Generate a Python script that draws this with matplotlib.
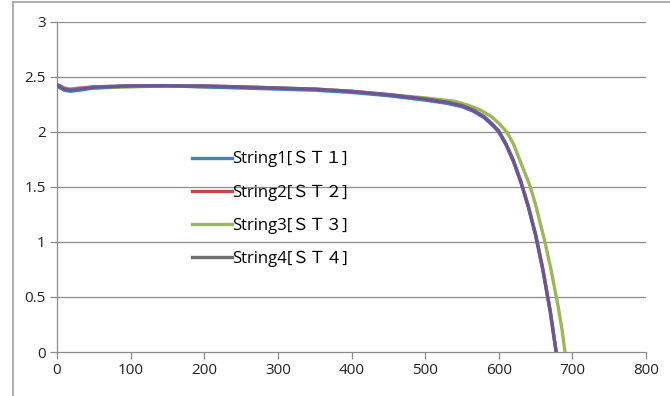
import matplotlib
matplotlib.use("Agg")
import matplotlib.pyplot as plt
from matplotlib.lines import Line2D

# String I-V curves (voltage in V, current in A)
v_main = [0, 5, 10, 18, 30, 50, 100, 150, 200, 250, 300, 350, 400, 450, 500,
          530, 550, 565, 580, 590, 600, 610, 620, 630, 640, 650, 660, 670, 678]
i_st1 = [2.42, 2.40, 2.38, 2.37, 2.38, 2.40, 2.42, 2.42, 2.41, 2.40, 2.39, 2.38, 2.36, 2.33, 2.29,
         2.26, 2.23, 2.19, 2.13, 2.07, 2.00, 1.88, 1.73, 1.54, 1.32, 1.06, 0.74, 0.36, 0.0]
i_st2 = [2.43, 2.42, 2.40, 2.39, 2.40, 2.41, 2.42, 2.42, 2.42, 2.41, 2.40, 2.39, 2.37, 2.34, 2.30,
         2.27, 2.24, 2.20, 2.14, 2.08, 2.01, 1.89, 1.74, 1.55, 1.33, 1.07, 0.75, 0.37, 0.0]
i_st4 = [2.43, 2.41, 2.39, 2.38, 2.39, 2.41, 2.42, 2.42, 2.42, 2.41, 2.40, 2.39, 2.37, 2.34, 2.30,
         2.27, 2.24, 2.20, 2.14, 2.08, 2.01, 1.89, 1.74, 1.55, 1.33, 1.07, 0.75, 0.37, 0.0]

v_st3 = [0, 5, 10, 20, 30, 50, 100, 150, 200, 250, 300, 350, 400, 450, 500,
         540, 560, 575, 590, 600, 611, 620, 630, 643, 650, 662, 670, 680, 686, 690]
i_st3 = [2.41, 2.40, 2.39, 2.38, 2.39, 2.40, 2.41, 2.42, 2.41, 2.41, 2.40, 2.39, 2.37, 2.34, 2.31,
         2.28, 2.24, 2.20, 2.14, 2.08, 2.00, 1.89, 1.72, 1.50, 1.34, 1.02, 0.78, 0.44, 0.20, 0.0]

labels = ["String1[ＳＴ１]", "String2[ＳＴ２]", "String3[ＳＴ３]", "String4[ＳＴ４]"]
colors = ["#4A7EBB", "#BE4B48", "#98B954", "#6E6E6E"]

x_ticks = [0, 100, 200, 300, 400, 500, 600, 700, 800]
y_ticks = [0, 0.5, 1, 1.5, 2, 2.5, 3]
y_ticklabels = ["0", "0.5", "1", "1.5", "2", "2.5", "3"]

plt.rcParams['font.family'] = ['Open Sans', 'Noto Sans CJK JP', 'DejaVu Sans']

fig = plt.figure(figsize=(6.7, 3.96), dpi=100)
ax = fig.add_axes([57 / 670, 1 - 352 / 396, (646 - 57) / 670, 330 / 396])

grid_c = "#8C8C8C"
for y in y_ticks[1:]:
    ax.axhline(y, color=grid_c, lw=0.9, zorder=1)

ax.plot(v_st3, i_st3, color=colors[2], lw=2.4, label=labels[2], zorder=3)
ax.plot(v_main, i_st1, color=colors[0], lw=2.4, label=labels[0], zorder=4)
ax.plot(v_main, i_st2, color=colors[1], lw=2.4, alpha=0.75, label=labels[1], zorder=5)
ax.plot(v_main, i_st4, color="#5A56A6", lw=2.4, alpha=0.75, zorder=6)

ax.set_xlim(0, 800)
ax.set_ylim(0, 3)
ax.set_xticks(x_ticks)
ax.set_yticks(y_ticks)
ax.set_yticklabels(y_ticklabels)

for s in ["top", "right"]:
    ax.spines[s].set_visible(False)
for s in ["left", "bottom"]:
    ax.spines[s].set_color(grid_c)
    ax.spines[s].set_linewidth(0.9)
ax.tick_params(axis="both", direction="out", length=5, width=0.9, color=grid_c,
               labelsize=11, labelcolor="#222222")
ax.tick_params(axis="x", pad=3)
ax.tick_params(axis="y", pad=3)

handles = [Line2D([], [], color=c, lw=2.4) for c in colors]
leg = ax.legend(handles, labels, loc="upper left", bbox_to_anchor=(0.229, 0.609),
                frameon=False, fontsize=12, handlelength=2.4, handletextpad=0.0,
                labelspacing=1.01, borderaxespad=0, borderpad=0)

# outer chart-area border (left and top edges)
fig.add_artist(Line2D([13 / 670, 13 / 670], [0, 1 - 2 / 396], color="#A0A0A0", lw=1.2,
                      transform=fig.transFigure))
fig.add_artist(Line2D([13 / 670, 1], [1 - 2 / 396, 1 - 2 / 396], color="#A0A0A0", lw=1.2,
                      transform=fig.transFigure))

fig.savefig("out.png", dpi=100)
